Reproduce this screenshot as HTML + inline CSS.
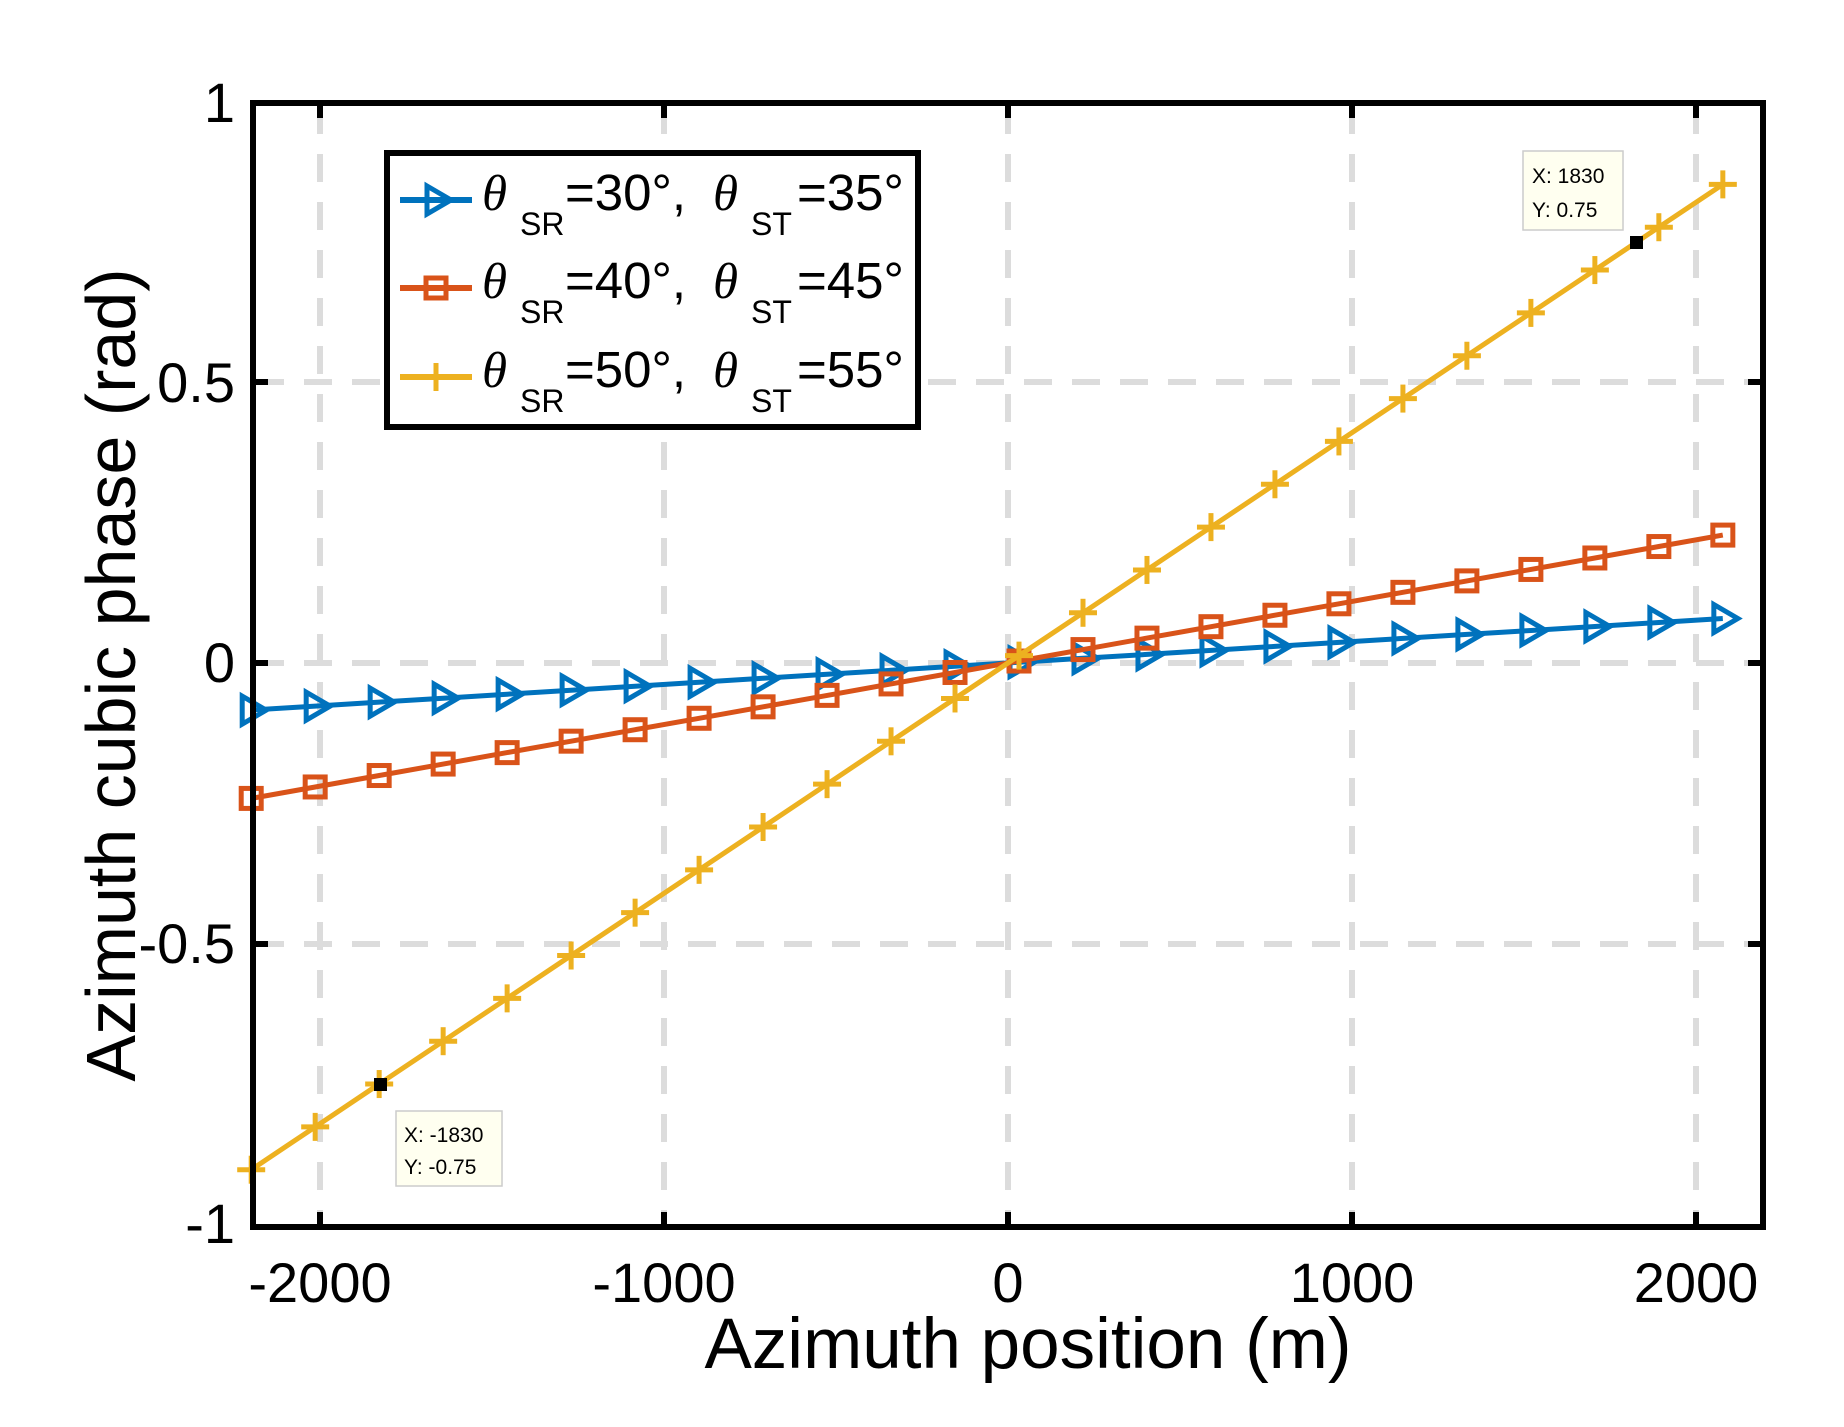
<!DOCTYPE html>
<html><head><meta charset="utf-8"><style>
html,body{margin:0;padding:0;background:#fff;}
svg{display:block;font-family:"Liberation Sans",Arial,sans-serif;}
</style></head><body>
<svg id="s" width="1844" height="1427" viewBox="0 0 1844 1427" xmlns="http://www.w3.org/2000/svg">
<rect width="1844" height="1427" fill="#fff"/>
<g id="grid" stroke="#dcdcdc" stroke-width="6" stroke-dasharray="28,20"></g>
<g id="data"></g>
<g id="ticks" stroke="#000" stroke-width="6"></g>
<rect x="253" y="103" width="1510" height="1124" fill="none" stroke="#000" stroke-width="6"/>
<g font-size="56" fill="#000" text-anchor="end" id="yl">
<text x="235" y="122">1</text>
<text x="235" y="402">0.5</text>
<text x="235" y="682">0</text>
<text x="235" y="963">-0.5</text>
<text x="235" y="1243">-1</text>
</g>
<g font-size="56" fill="#000" text-anchor="middle">
<text x="320" y="1302">-2000</text>
<text x="664" y="1302">-1000</text>
<text x="1008" y="1302">0</text>
<text x="1352" y="1302">1000</text>
<text x="1696" y="1302">2000</text>
</g>
<text x="1028" y="1368" font-size="71" text-anchor="middle">Azimuth position (m)</text>
<text transform="translate(135,675) rotate(-90)" font-size="70" text-anchor="middle">Azimuth cubic phase (rad)</text>
<!-- legend -->
<rect x="387" y="153" width="531" height="274" fill="#fff" stroke="#000" stroke-width="6"/>
<g id="leg"></g>
<g font-size="51" fill="#000">
<text y="210"><tspan x="482" font-family="'Liberation Serif',serif" font-style="italic">θ</tspan><tspan x="520" y="235" font-size="32">SR</tspan><tspan x="565" y="210">=30°,</tspan><tspan x="713" font-family="'Liberation Serif',serif" font-style="italic">θ</tspan><tspan x="751" y="235" font-size="32">ST</tspan><tspan x="797" y="210">=35°</tspan></text>
<text y="298"><tspan x="482" font-family="'Liberation Serif',serif" font-style="italic">θ</tspan><tspan x="520" y="323" font-size="32">SR</tspan><tspan x="565" y="298">=40°,</tspan><tspan x="713" font-family="'Liberation Serif',serif" font-style="italic">θ</tspan><tspan x="751" y="323" font-size="32">ST</tspan><tspan x="797" y="298">=45°</tspan></text>
<text y="387"><tspan x="482" font-family="'Liberation Serif',serif" font-style="italic">θ</tspan><tspan x="520" y="412" font-size="32">SR</tspan><tspan x="565" y="387">=50°,</tspan><tspan x="713" font-family="'Liberation Serif',serif" font-style="italic">θ</tspan><tspan x="751" y="412" font-size="32">ST</tspan><tspan x="797" y="387">=55°</tspan></text>
</g>
<!-- datatips -->
<rect x="1523" y="151" width="100" height="79" fill="#fffff0" stroke="#ccc" stroke-width="1.5"/>
<text x="1532" y="183" font-size="21">X: 1830</text>
<text x="1532" y="217" font-size="21">Y: 0.75</text>
<rect x="1630" y="236" width="13" height="13" fill="#000"/>
<rect x="396" y="1111" width="106" height="75" fill="#fffff0" stroke="#ccc" stroke-width="1.5"/>
<text x="404" y="1142" font-size="21">X: -1830</text>
<text x="404" y="1174" font-size="21">Y: -0.75</text>
<rect x="374" y="1078" width="13" height="13" fill="#000"/>
</svg>
<script>
const NS="http://www.w3.org/2000/svg";
const px=x=>1008+x*0.344, py=y=>663-y*562;
function el(p,t,a){const e=document.createElementNS(NS,t);for(const k in a)e.setAttribute(k,a[k]);p.appendChild(e);return e;}
const grid=document.getElementById('grid'),ticks=document.getElementById('ticks'),data=document.getElementById('data'),leg=document.getElementById('leg');
[-2000,-1000,0,1000,2000].forEach(x=>{const X=px(x);el(grid,'line',{x1:X,y1:106,x2:X,y2:1224});
el(ticks,'line',{x1:X,y1:103,x2:X,y2:118});el(ticks,'line',{x1:X,y1:1227,x2:X,y2:1212});});
[-0.5,0,0.5].forEach(y=>{const Y=py(y);el(grid,'line',{x1:256,y1:Y,x2:1760,y2:Y});
el(ticks,'line',{x1:253,y1:Y,x2:268,y2:Y});el(ticks,'line',{x1:1763,y1:Y,x2:1748,y2:Y});});
const series=[{c:'#0072BD',f:x=>0.08*x/2100,m:'tri'},{c:'#D95319',f:x=>0.23*x/2100,m:'sq'},{c:'#EDB120',f:x=>0.75*x/1830,m:'plus'}];
function marker(g,m,X,Y,c){
 if(m==='tri')el(g,'polygon',{points:`${X-9},${Y-14} ${X+15},${Y} ${X-9},${Y+14}`,fill:'none',stroke:c,'stroke-width':5});
 else if(m==='sq')el(g,'rect',{x:X-10,y:Y-10,width:20,height:20,fill:'none',stroke:c,'stroke-width':5});
 else{el(g,'line',{x1:X-14,y1:Y,x2:X+14,y2:Y,stroke:c,'stroke-width':5});el(g,'line',{x1:X,y1:Y-14,x2:X,y2:Y+14,stroke:c,'stroke-width':5});}
}
series.forEach(s=>{
 const xs=[];for(let i=0;i<24;i++)xs.push(-2200+i*186);
 const pts=xs.map(x=>px(x).toFixed(1)+','+py(s.f(x)).toFixed(1)).join(' ');
 el(data,'polyline',{points:pts,fill:'none',stroke:s.c,'stroke-width':5});
 xs.forEach(x=>marker(data,s.m,px(x),py(s.f(x)),s.c));
});
[[200,0],[288,1],[377,2]].forEach(([y,i])=>{const s=series[i];
 el(leg,'line',{x1:400,y1:y,x2:472,y2:y,stroke:s.c,'stroke-width':6});marker(leg,s.m,436,y,s.c);});
</script>
</body></html>
